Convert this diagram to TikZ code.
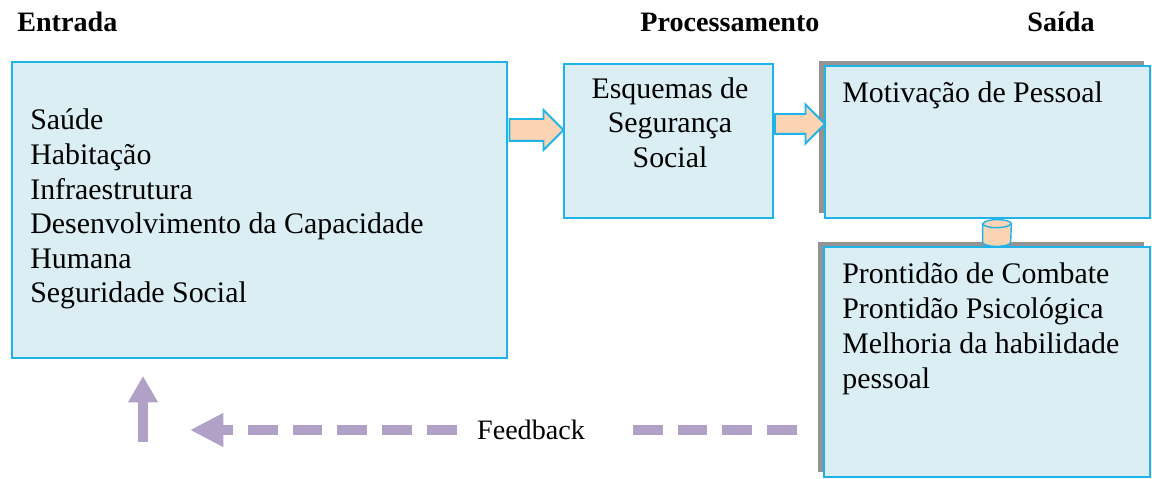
\documentclass[tikz,border=0pt]{standalone}
\usepackage{fontspec}
\setmainfont{Liberation Serif}
\usetikzlibrary{shapes.arrows,shadows,arrows.meta}

\definecolor{boxfill}{RGB}{218,238,243}
\definecolor{boxline}{RGB}{30,180,234}
\definecolor{peach}{RGB}{251,212,180}
\definecolor{lilac}{RGB}{178,161,199}

\tikzset{
  panel/.style={draw=boxline, fill=boxfill, line width=1.1pt, inner sep=0pt, outer sep=0pt},
  shadowpanel/.style={panel, drop shadow={shadow xshift=-0.12cm, shadow yshift=0.1cm, fill=gray!85, opacity=1}},
  boxtext/.style={font=\fontsize{17}{19.7}\selectfont, inner sep=0pt},
  heading/.style={font=\fontsize{16}{19}\selectfont\bfseries, inner sep=0pt},
  blockarrow/.style={single arrow, draw=boxline, fill=peach, line width=1.1pt, inner xsep=0pt},
  linkcyl/.style={draw=boxline, fill=peach, line width=0.8pt},
  fbline/.style={lilac, line width=6pt, dash pattern=on 17pt off 8.5pt},
}

\begin{document}
\begin{tikzpicture}[x=0.02cm, y=-0.02cm]
\useasboundingbox (0,0) rectangle (1152,479);

% Headings
\node[heading, anchor=base west] (hin) at (17,32) {Entrada};
\node[heading, anchor=base] (hproc) at (730,32) {Processamento};
\node[heading, anchor=base] (hout) at (1061,32) {Saída};

% Input
\node[panel, minimum width=9.9cm, minimum height=5.92cm] (input) at (259.5,210) {};
\foreach \txt [count=\i] in {Saúde, Habitação, Infraestrutura, Desenvolvimento da Capacidade, Humana, Seguridade Social}
  \node[boxtext, anchor=base west] (in\i) at (30,{130+34.6*(\i-1)}) {\txt};

% Processing
\node[panel, minimum width=4.18cm, minimum height=3.08cm] (proc) at (668.5,141) {};
\node[boxtext, anchor=base] (proc1) at (670,99) {Esquemas de};
\node[boxtext, anchor=base] (proc2) at (670,133) {Segurança};
\node[boxtext, anchor=base] (proc3) at (670,168) {Social};

% Output
\node[shadowpanel, minimum width=6.5cm, minimum height=3.04cm] (motiv) at (987.5,142) {};
\node[boxtext, anchor=base west] (motivtext) at (842,103) {Motivação de Pessoal};
\node[shadowpanel, minimum width=6.52cm, minimum height=4.6cm] (ready) at (987,362) {};
\foreach \txt [count=\i] in {Prontidão de Combate, Prontidão Psicológica, Melhoria da habilidade, pessoal}
  \node[boxtext, anchor=base west] (out\i) at (842,{284+34.7*(\i-1)}) {\txt};

% Links
\node[blockarrow, inner ysep=0.2cm, single arrow head extend=0.18cm, minimum height=1.08cm] (arr1) at (531,130) {};
\node[blockarrow, inner ysep=0.18cm, single arrow head extend=0.19cm, minimum height=1.0cm] (arr2) at (795,124) {};
\node[inner sep=0pt, minimum width=0.56cm, minimum height=0.52cm] (link) at (997,233) {};
\filldraw[linkcyl] ([yshift=-0.08cm]link.north west) -- ([yshift=0.08cm]link.south west)
  arc[start angle=180, end angle=360, x radius=0.28cm, y radius=0.08cm]
  -- ([yshift=-0.08cm]link.north east)
  arc[start angle=0, end angle=180, x radius=0.28cm, y radius=0.08cm] -- cycle;
\draw[linkcyl, fill=none] ([yshift=-0.08cm]link.north west)
  arc[start angle=180, end angle=360, x radius=0.28cm, y radius=0.08cm];

% Feedback
\node[font=\fontsize{16}{19}\selectfont, inner sep=0pt] (fb) at (531,430) {Feedback};
\coordinate (fbR) at (797,430);
\coordinate (fbL) at (190,430);
\draw[fbline, shorten >=0.95cm] (fbR) -- (fb.east);
\draw[fbline, shorten <=0.4cm, -{Triangle[length=19pt,width=18pt]}] (fb.west) -- (fbL);
\coordinate (upB) at (143,442);
\coordinate (upT) at (143,376);
\draw[lilac, line width=6pt, -{Triangle[length=15pt,width=16pt]}] (upB) -- (upT);
\end{tikzpicture}
\end{document}
